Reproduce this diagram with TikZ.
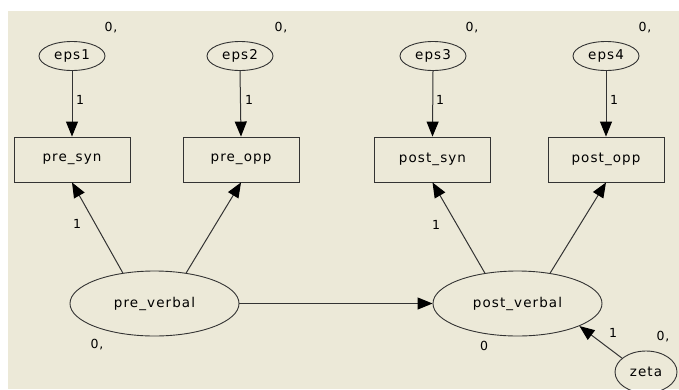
\documentclass[tikz,border=0pt]{standalone}
\usepackage{fontspec}
\setmainfont{DejaVu Sans}[LetterSpace=8]
\usetikzlibrary{shapes.geometric,arrows.meta}
\definecolor{bg}{HTML}{ECE9D8}
\definecolor{ln}{HTML}{333333}
\tikzset{
  lat/.style={ellipse,draw=ln,line width=0.9pt,inner sep=0pt,font=\fontsize{13.5}{14}\selectfont},
  obs/.style={rectangle,draw=ln,line width=0.9pt,minimum width=116pt,minimum height=45pt,inner sep=0pt,font=\fontsize{13.5}{14}\selectfont},
  err/.style={lat,minimum width=66pt,minimum height=29pt},
  fac/.style={lat,minimum width=169pt,minimum height=65pt},
  lbl/.style={inner sep=0pt,font=\fontsize{12.5}{13}\selectfont},
  path/.style={draw=ln,line width=1pt,-{Triangle[length=15pt,width=12pt,fill=black,color=black]}},
}
\begin{document}
\begin{tikzpicture}[x=1pt,y=-1pt]
\useasboundingbox (0,0) rectangle (679,389);
\fill[bg] (8,11) rectangle (679,389);
% error terms
\node[err] (e1) at (72,56) {eps1};
\node[err] (e2) at (240,56) {eps2};
\node[err] (e3) at (433,56) {eps3};
\node[err] (e4) at (606,56) {eps4};
\node[lbl] (v1) at (111,28) {0,};
\node[lbl] (v2) at (281,28) {0,};
\node[lbl] (v3) at (472,28) {0,};
\node[lbl] (v4) at (645,28) {0,};
% observed
\node[obs] (ps) at (72,159.5) {pre\_syn};
\node[obs] (po) at (241,159.5) {pre\_opp};
\node[obs] (qs) at (432.5,159.5) {post\_syn};
\node[obs] (qo) at (606,159.5) {post\_opp};
% factors
\node[fac] (pv) at (154.5,303.5) {pre\_verbal};
\node[fac] (qv) at (517.5,303.5) {post\_verbal};
\node[lat,minimum width=62pt,minimum height=42pt] (z) at (646,372) {zeta};
\node[lbl] (m1) at (97,345) {0,};
\node[lbl] (m2) at (484,346) {0};
\node[lbl] (m3) at (663,337) {0,};
% paths
\draw[path] (e1.south) -- (ps.north);
\draw[path] (e2.south) -- (po.north);
\draw[path] (e3.south) -- (qs.north);
\draw[path] (e4.south) -- (qo.north);
\node[lbl] (l1) at (80,100) {1};
\node[lbl] (l2) at (249,100) {1};
\node[lbl] (l3) at (440,100) {1};
\node[lbl] (l4) at (614,100) {1};
\draw[path] (pv.136) -- (ps.south);
\draw[path] (pv.44) -- (po.south);
\draw[path] (qv.137) -- (qs.south);
\draw[path] (qv.43) -- (qo.south);
\node[lbl] (l5) at (77,224) {1};
\node[lbl] (l6) at (436,225) {1};
\draw[path] (pv.east) -- (qv.west);
\draw[path] (z.150) -- (qv.-20);
\node[lbl] (l7) at (613,333) {1};
\end{tikzpicture}
\end{document}
